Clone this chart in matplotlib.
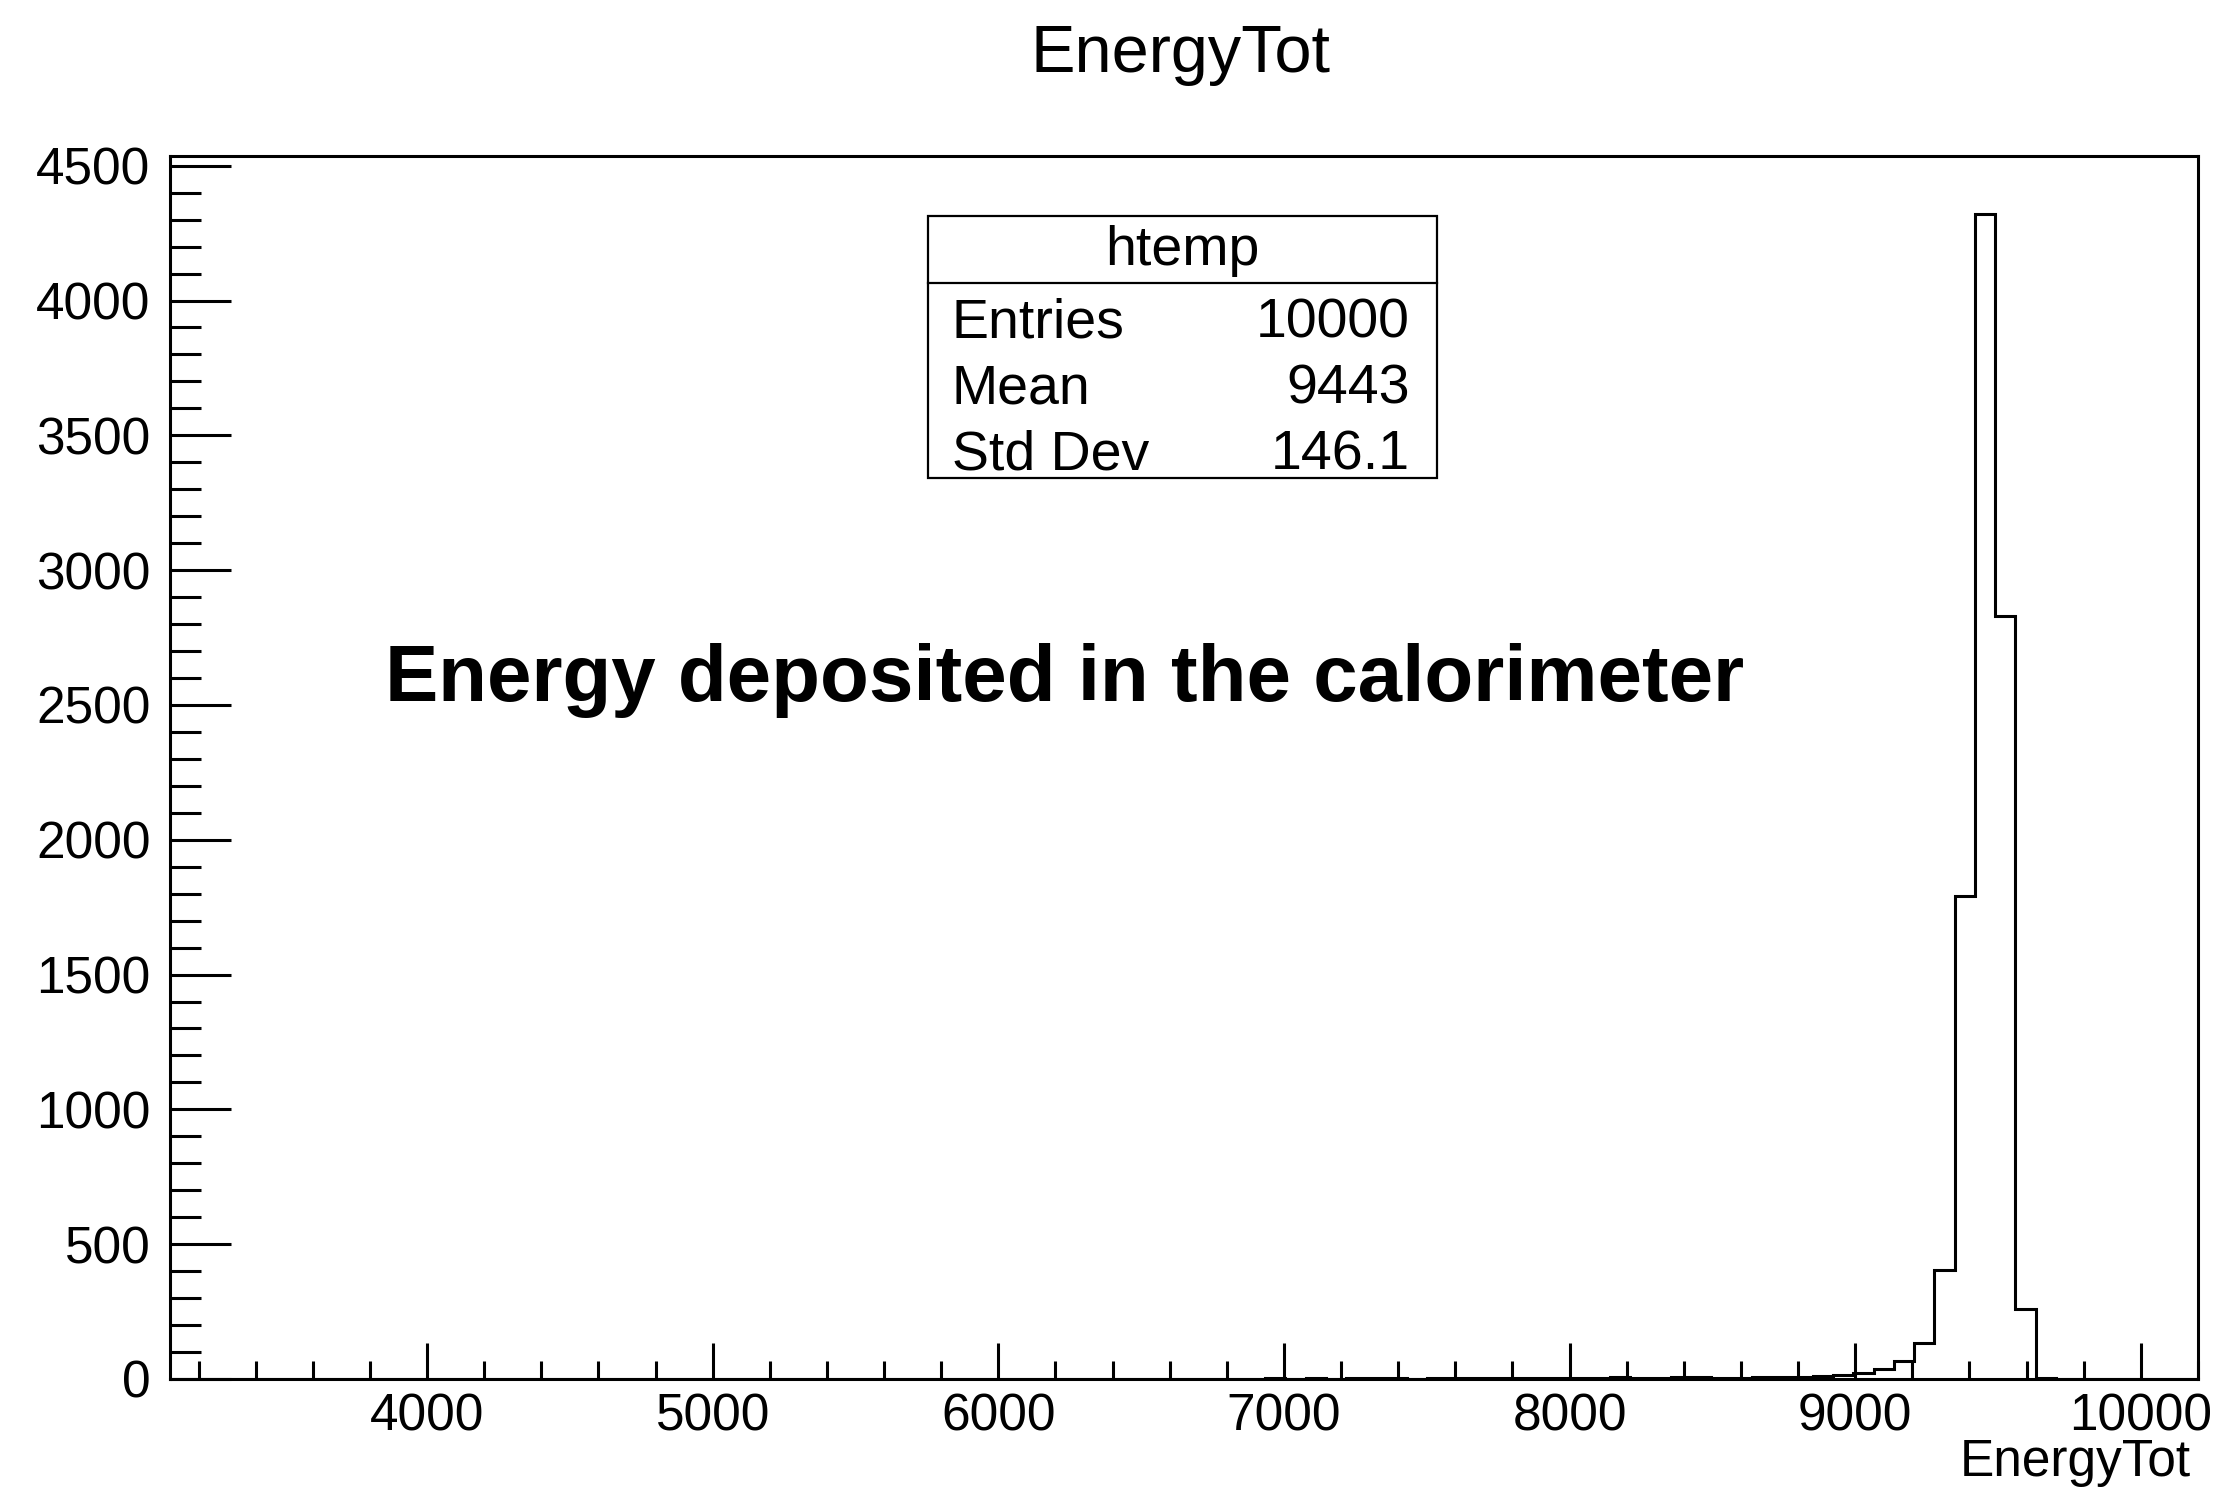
import numpy as np
import matplotlib
matplotlib.use("Agg")
import matplotlib.pyplot as plt
from matplotlib.patches import Rectangle
from matplotlib.lines import Line2D
from matplotlib.ticker import MultipleLocator

plt.rcParams["font.family"] = ["Liberation Sans", "DejaVu Sans"]

# histogram binning (htemp: 100 bins)
x_min = 3100
x_max = 10200
n_bins = 100

# bin contents, 10 bins per row
counts = [
    1, 0, 0, 0, 0, 0, 0, 0, 0, 0,
    0, 0, 1, 0, 0, 0, 0, 0, 0, 0,
    0, 0, 0, 0, 0, 1, 0, 0, 0, 0,
    0, 0, 0, 1, 0, 0, 0, 0, 0, 0,
    0, 0, 0, 0, 0, 0, 0, 0, 0, 0,
    1, 0, 1, 0, 2, 1, 2, 1, 2, 2,
    2, 1, 2, 2, 3, 5, 5, 5, 5, 2,
    2, 6, 2, 3, 6, 7, 3, 5, 6, 8,
    9, 11, 16, 23, 36, 68, 135, 405, 1790, 4320,
    2830, 258, 2, 0, 0, 0, 0, 0, 0, 0,
]

stat_names = ["Entries", "Mean", "Std Dev"]
stat_values = ["10000", "9443", "146.1"]

W, H = 2213, 1490
fig = plt.figure(figsize=(W / 100, H / 100), dpi=100)
fig.patch.set_facecolor("white")


def fx(x):
    return x / W


def fy(y):
    return 1 - y / H


# axes frame in pixels: left 170, right 2198, top 156, bottom 1379
ax = fig.add_axes([fx(170), fy(1379), fx(2198) - fx(170), fy(156) - fy(1379)])

edges = np.linspace(x_min, x_max, n_bins + 1)
ax.stairs(counts, edges, color="black", linewidth=2.2)

ax.set_xlim(x_min, x_max)
ax.set_ylim(0, 1.05 * max(counts))

ax.xaxis.set_major_locator(MultipleLocator(1000))
ax.xaxis.set_minor_locator(MultipleLocator(200))
ax.yaxis.set_major_locator(MultipleLocator(500))
ax.yaxis.set_minor_locator(MultipleLocator(100))

for s in ax.spines.values():
    s.set_linewidth(2.2)

ax.tick_params(axis="x", which="major", direction="in", length=26, width=2.2,
               labelsize=37, pad=10, top=False)
ax.tick_params(axis="x", which="minor", direction="in", length=13, width=2.2, top=False)
ax.tick_params(axis="y", which="major", direction="in", length=44, width=2.2,
               labelsize=37, pad=14, right=False)
ax.tick_params(axis="y", which="minor", direction="in", length=22, width=2.2, right=False)

# title and axis title
fig.text(fx(1180), fy(55), "EnergyTot", fontsize=48, ha="center", va="center")
fig.text(fx(2191), fy(1476), "EnergyTot", fontsize=37, ha="right", va="baseline")

# annotation
fig.text(fx(385), fy(701), "Energy deposited in the calorimeter",
         fontsize=57.5, fontweight="bold", ha="left", va="baseline")

# stats box
bl, br, bt, bb, bsep = 928, 1437, 216, 478, 283
fig.patches.append(Rectangle((fx(bl), fy(bb)), fx(br) - fx(bl), fy(bt) - fy(bb),
                             transform=fig.transFigure, facecolor="white",
                             edgecolor="black", linewidth=1.6, zorder=5))
fig.lines.append(Line2D([fx(bl), fx(br)], [fy(bsep), fy(bsep)],
                        transform=fig.transFigure, color="black", linewidth=1.6, zorder=6))
fig.text(fx((bl + br) / 2), fy(265), "htemp", fontsize=40, ha="center",
         va="baseline", zorder=7)
for name, val, base in zip(stat_names, stat_values, [338, 404, 470]):
    fig.text(fx(952), fy(base), name, fontsize=40, ha="left", va="baseline", zorder=7)
    fig.text(fx(1410), fy(base), val, fontsize=40, ha="right", va="baseline", zorder=7)

fig.savefig("out.png", dpi=100, facecolor="white")
